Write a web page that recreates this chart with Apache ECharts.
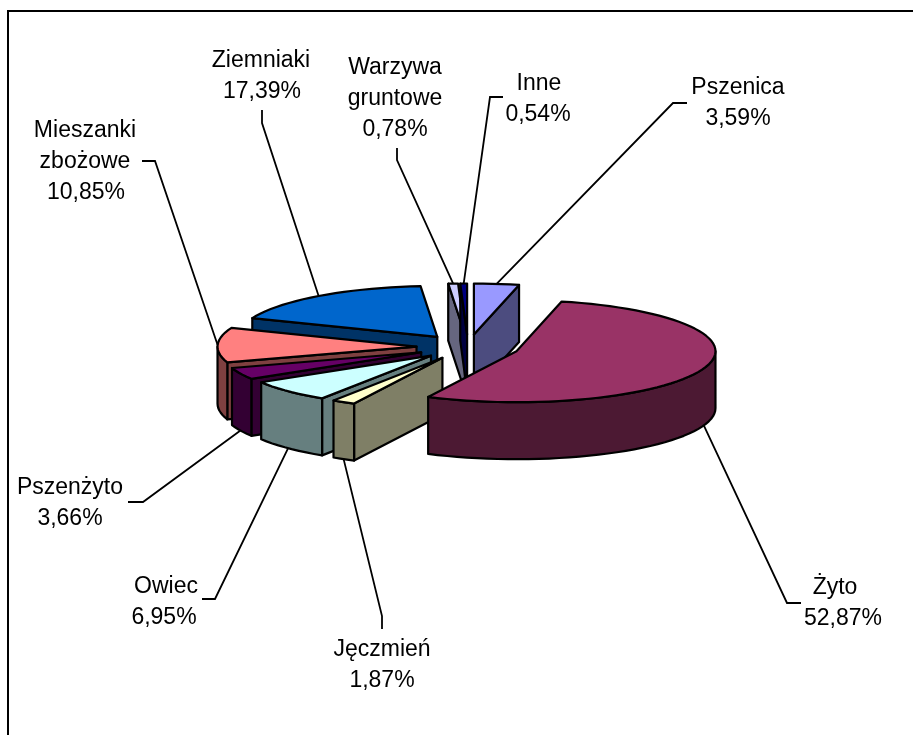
<!DOCTYPE html>
<html>
<head>
	<meta charset="utf-8" />
	<title>Struktura zasiewów</title>
	<style>
		html, body { margin: 0; padding: 0; background: #fff; }
		#main { width: 913px; height: 735px; }
	</style>
</head>
<body>
	<div id="main"></div>
	<script src="https://cdn.jsdelivr.net/npm/echarts@6/dist/echarts.min.js"></script>
	<script type="text/javascript">
		// dane, zgodnie z ruchem wskazowek zegara od godziny 12
		var nazwy = ['Pszenica', 'Żyto', 'Jęczmień', 'Owiec', 'Pszenżyto', 'Mieszanki\nzbożowe', 'Ziemniaki', 'Warzywa\ngruntowe', 'Inne'];
		var wartosci = [3.59, 52.87, 1.87, 6.95, 3.66, 10.85, 17.39, 0.78, 0.54];
		var kolory = ['#9999FF', '#993366', '#FFFFCC', '#CCFFFF', '#660066', '#FF8080', '#0066CC', '#CCCCFF', '#000080'];

		// kolejnosc rysowania (od tylu do przodu)
		var kolejnosc = [6, 7, 8, 0, 5, 4, 3, 2, 1];

		// uklad wykresu
		var srodekX = 468, srodekY = 347;
		var promienX = 199, promienY = 51;
		var wysunX = 51.5, wysunY = 12.5;
		var grubosc = 57;

		// polozenie etykiet: srodki linii tekstu oraz zalamanie i koniec linii odniesienia
		var etykiety = [
			{ xs: [738, 738], y: 88, zal: [673, 103], kon: [687, 103] },
			{ xs: [835, 843], y: 588, zal: [787, 603], kon: [801, 603] },
			{ xs: [382, 382], y: 650, zal: [382, 616], kon: [382, 629] },
			{ xs: [166, 164], y: 587, zal: [215, 599], kon: [202, 599] },
			{ xs: [70, 70], y: 488, zal: [143, 502], kon: [128, 502] },
			{ xs: [85, 85, 86], y: 131, zal: [155, 161], kon: [142, 161] },
			{ xs: [261, 262], y: 61, zal: [262, 123], kon: [262, 110] },
			{ xs: [395, 395, 395], y: 68, zal: [397, 160], kon: [397, 148] },
			{ xs: [539, 538], y: 84, zal: [490, 97], kon: [503, 97] }
		];

		var suma = 0;
		for (var i = 0; i < wartosci.length; i++) {
			suma += wartosci[i];
		}

		var katy = [];
		var narast = 0;
		for (var i = 0; i < wartosci.length; i++) {
			var od = narast / suma * 360;
			narast += wartosci[i];
			katy.push({ od: od, do: narast / suma * 360 });
		}

		function radiany(k) {
			return k * Math.PI / 180;
		}

		// wierzcholek wysunietego wycinka
		function wierzcholek(i) {
			var s = radiany((katy[i].od + katy[i].do) / 2);
			return [srodekX + wysunX * Math.sin(s), srodekY - wysunY * Math.cos(s)];
		}

		function naObwodzie(w, k, dol) {
			return [w[0] + promienX * Math.sin(radiany(k)), w[1] - promienY * Math.cos(radiany(k)) + (dol || 0)];
		}

		function luk(w, a, b, dol) {
			var pkt = [];
			var n = Math.max(2, Math.ceil((b - a) / 3));
			for (var j = 0; j <= n; j++) {
				pkt.push(naObwodzie(w, a + (b - a) * j / n, dol));
			}
			return pkt;
		}

		function ciemniej(hex) {
			var r = parseInt(hex.substr(1, 2), 16) >> 1;
			var g = parseInt(hex.substr(3, 2), 16) >> 1;
			var b = parseInt(hex.substr(5, 2), 16) >> 1;
			return 'rgb(' + r + ',' + g + ',' + b + ')';
		}

		function wielokat(pkt, kolor) {
			return {
				type: 'polygon',
				shape: { points: pkt },
				style: { fill: kolor, stroke: '#000', lineWidth: 2.2, lineJoin: 'round' }
			};
		}

		function scianaProsta(w, k, kolor) {
			var a = naObwodzie(w, k);
			return wielokat([w, a, [a[0], a[1] + grubosc], [w[0], w[1] + grubosc]], kolor);
		}

		function rysujWycinek(params, api) {
			var i = api.value(0);
			var w = wierzcholek(i);
			var a = katy[i].od, b = katy[i].do;
			var ciemny = ciemniej(kolory[i]);
			var dzieci = [];

			if (a > 180) {
				dzieci.push(scianaProsta(w, a, ciemny));
			}
			if (b < 180) {
				dzieci.push(scianaProsta(w, b, ciemny));
			}
			var p = Math.max(a, 90), k = Math.min(b, 270);
			if (k > p) {
				dzieci.push(wielokat(luk(w, p, k, 0).concat(luk(w, p, k, grubosc).reverse()), ciemny));
			}
			dzieci.push(wielokat([w].concat(luk(w, a, b, 0)), kolory[i]));
			return { type: 'group', children: dzieci };
		}

		function rysujEtykiete(params, api) {
			var i = api.value(0);
			var e = etykiety[i];
			var s = (katy[i].od + katy[i].do) / 2;
			var blisko = s > 90 && s < 270;
			var start = naObwodzie(wierzcholek(i), s, blisko ? grubosc : 0);
			var dzieci = [{
				type: 'polyline',
				shape: { points: [start, e.zal, e.kon] },
				style: { fill: null, stroke: '#000', lineWidth: 1.8 }
			}];
			var linie = nazwy[i].split('\n');
			linie.push(wartosci[i].toFixed(2).replace('.', ',') + '%');
			for (var j = 0; j < linie.length; j++) {
				dzieci.push({
					type: 'text',
					style: {
						text: linie[j],
						x: e.xs[j],
						y: e.y + j * 31,
						align: 'center',
						verticalAlign: 'middle',
						fill: '#000',
						font: '23px "Liberation Sans"'
					}
				});
			}
			return { type: 'group', children: dzieci };
		}

		var myChart = echarts.init(document.getElementById('main'));
		var option = {
			animation: false,
			backgroundColor: '#fff',
			graphic: [{
				type: 'polyline',
				shape: { points: [[8, 735], [8, 11], [913, 11]] },
				style: { fill: null, stroke: '#000', lineWidth: 2 }
			}],
			series: [{
				type: 'custom',
				coordinateSystem: 'none',
				renderItem: rysujWycinek,
				data: kolejnosc.map(function(n) { return [n]; }),
				silent: true,
				z: 2
			}, {
				type: 'custom',
				coordinateSystem: 'none',
				renderItem: rysujEtykiete,
				data: kolejnosc.map(function(n) { return [n]; }),
				silent: true,
				z: 3
			}]
		};
		myChart.setOption(option);
	</script>
</body>
</html>
